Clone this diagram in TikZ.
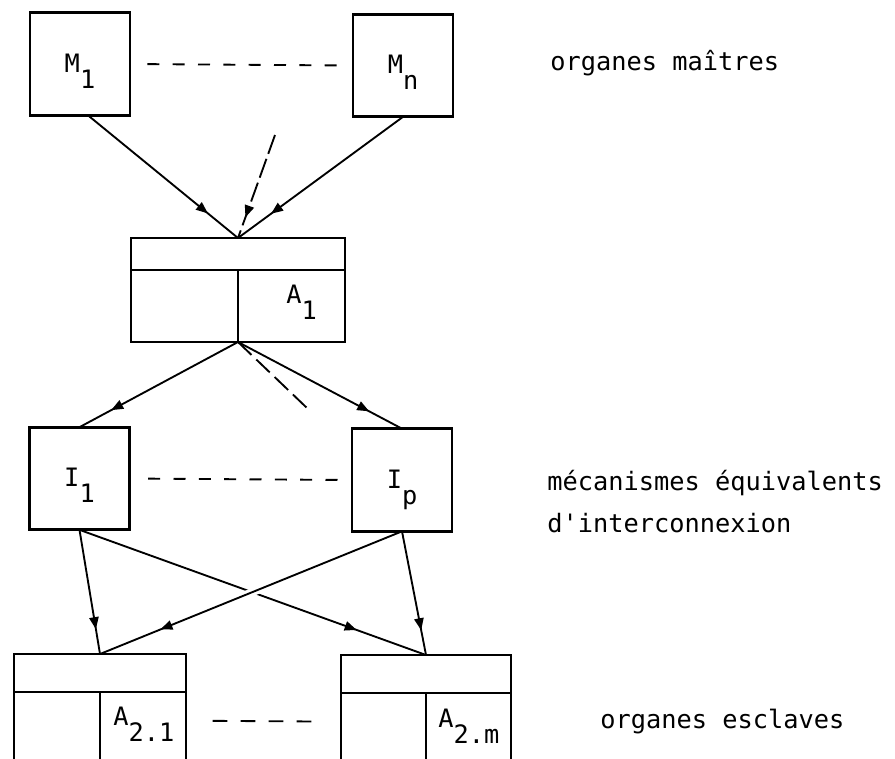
\documentclass[tikz,border=0pt]{standalone}
\usepackage{fontspec}
\newfontfamily\plotfont{DejaVu Sans Mono}
\usetikzlibrary{arrows.meta,decorations.markings}

\newcommand\subdown[1]{\raisebox{-12pt}{#1}}

\begin{document}
\begin{tikzpicture}[x=0.75pt, y=-0.75pt,
    nodes = {font=\plotfont\fontsize{19}{23}\selectfont},
    unit/.style = {draw, line width=2.2pt, outer sep=0pt, inner sep=0pt, minimum width=75pt, minimum height=77pt, text height=20pt, text depth=8pt},
    ctrl/.style = {draw, line width=2.2pt, outer sep=0pt, inner sep=0pt, minimum width=160.5pt, minimum height=78pt},
    slave/.style = {draw, line width=2.2pt, outer sep=0pt, inner sep=0pt, minimum height=150pt},
    tag/.style = {anchor=base west, inner sep=0pt},
    thin/.style = {line width=1.4pt},
    link/.style = {thin, postaction={decorate}, decoration={markings, mark=at position 0.8 with {\arrow{Triangle[length=9pt,width=7pt]}}}},
    etc/.style = {thin, dash pattern=on 9pt off 10pt},
  ]
  \useasboundingbox (0,0) rectangle (895,758);
  \clip (0,0) rectangle (895,758);

  % masters
  \node (m1) [unit] at (80,64) {M\subdown{1}};
  \node (mn) [unit] at (403,65.5) {M\subdown{n}};
  \node (tagm) [tag] at (550,70) {organes maîtres};

  % first coupler
  \node (a1) [ctrl] at (238,290) {};
  \draw[thin] ([yshift=-24pt]a1.north west) -- ([yshift=-24pt]a1.north east);
  \draw[thin] ([yshift=-24pt]a1.north) -- (a1.south);
  \node (lbla1) [tag] at (286,303) {A\subdown{1}};

  % interconnection units
  \node (i1) [unit] at (79.5,478.5) {I\subdown{1}};
  \node (ip) [unit] at (402,480) {I\subdown{p}};
  \node (tagi) [tag] at (547,490) {mécanismes équivalents};
  \node (tagi2) [tag] at (547,532) {d'interconnexion};

  % slaves
  \node (a21) [slave, minimum width=129pt] at (100,754) {};
  \node (a2m) [slave, minimum width=127.5pt] at (426,755) {};
  \foreach \s in {a21,a2m} {
    \draw[thin] ([yshift=-28.5pt]\s.north west) -- ([yshift=-28.5pt]\s.north east);
    \draw[thin] ([yshift=-28.5pt]\s.north) -- (\s.south);
  }
  \node (lbla21) [tag] at (113,725) {A\subdown{2.1}};
  \node (lbla2m) [tag] at (438,727) {A\subdown{2.m}};
  \node (tags) [tag] at (600,728) {organes esclaves};

  \coordinate (hint) at (275,135);
  \coordinate (tail) at (307,408);

  % ellipses between units
  \draw[etc, shorten <=13pt, shorten >=12pt] (m1.east) -- (mn.west);
  \draw[etc, shorten <=14pt, shorten >=10pt] (i1.east) -- (ip.west);
  \draw[etc, dash pattern=on 11pt off 10pt, shorten <=20pt, shorten >=21pt] ([yshift=-50pt]a21.north east) -- ([yshift=-50pt]a2m.north west);

  % connections
  \draw[link] ([xshift=6pt]m1.south) -- (a1.north);
  \draw[link] (mn.south) -- (a1.north);
  \draw[link, dash pattern=on 15pt off 4pt] (hint) -- (a1.north);
  \draw[link] (a1.south) -- (i1.north);
  \draw[link] (a1.south) -- (ip.north);
  \draw[thin, dash pattern=on 14pt off 5pt] (a1.south) -- (tail);
  \draw[link] (i1.south) -- (a2m.north);
  \draw[link, preaction={draw=white, line width=6pt, shorten <=60pt, shorten >=60pt}] (ip.south) -- (a21.north);
  \draw[link] (i1.south) -- (a21.north);
  \draw[link] (ip.south) -- (a2m.north);
\end{tikzpicture}
\end{document}
